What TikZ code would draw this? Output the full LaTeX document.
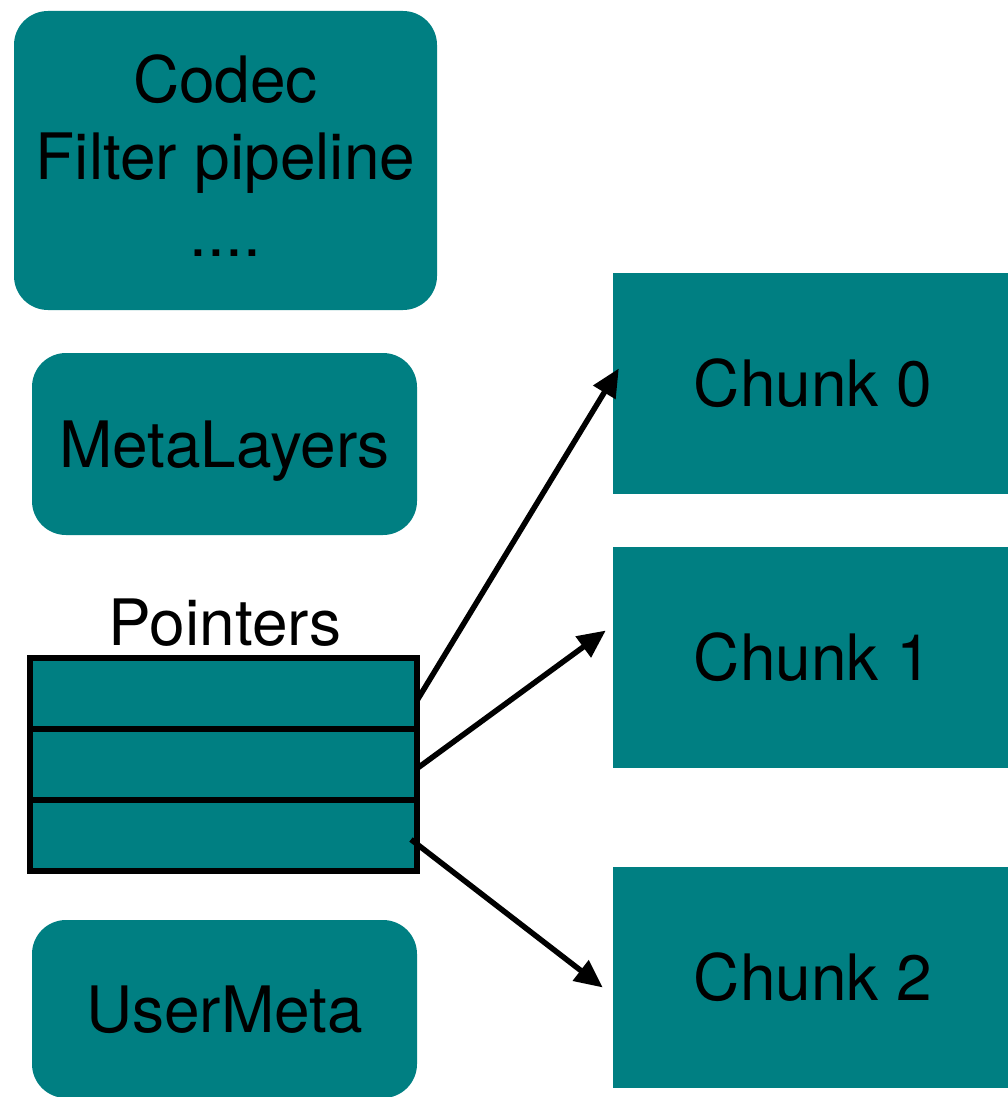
\documentclass[tikz,border=0pt]{standalone}
\usepackage{fontspec}
\setmainfont{TeX Gyre Heros}
\usepackage{tikz}
\usetikzlibrary{arrows.meta,positioning}
\definecolor{blosc}{RGB}{0,127,130}
\tikzstyle{meta} = [rectangle, rounded corners=34pt, fill=blosc, align=center, inner sep=0pt, text depth=0pt]
\tikzstyle{chunk} = [rectangle, fill=blosc, inner sep=0pt, minimum width=400pt, minimum height=221pt]
\tikzstyle{slot} = [rectangle, fill=blosc, draw=black, line width=5.5pt, inner sep=0pt, outer sep=0pt, minimum width=387pt, minimum height=71pt]
\tikzstyle{ptr} = [black, line width=5.5pt, -{Triangle[length=28pt,width=25pt]}]

\begin{document}
\begin{tikzpicture}[x=1pt, y=-1pt, font=\fontsize{64}{77}\selectfont]
		\useasboundingbox (0,0) rectangle (1008,1097);

		\begin{scope}[every node/.style={meta}]
			\node[minimum width=423pt, minimum height=299pt, text depth=10pt] (codec) at (225.5,160.5) {Codec\\Filter pipeline\\....};
			\node[minimum width=385pt, minimum height=182pt] (layers) at (224.5,444) {MetaLayers};
			\node[minimum width=385pt, minimum height=178pt] (user) at (224.5,1009) {UserMeta};
		\end{scope}

		\begin{scope}[every node/.style={chunk}]
			\node (c0) at (813,383.5) {Chunk 0};
			\node (c1) at (813,657.5) {Chunk 1};
			\node (c2) at (813,977.5) {Chunk 2};
		\end{scope}

		\node (p0) [slot] at (223.5,693.5) {};
		\node (p1) [slot, below=0pt of p0] {};
		\node (p2) [slot, below=0pt of p1] {};
		\node[anchor=base] (label) at (225,645) {Pointers};

		\draw[ptr] ([yshift=-7pt]p0.east) -- ([xshift=6pt,yshift=15pt]c0.west);
		\draw[ptr] ([yshift=-4pt]p1.east) -- ([xshift=-7pt,yshift=27pt]c1.west);
		\draw[ptr] ([xshift=-6pt,yshift=-4pt]p2.east) -- ([xshift=-10pt,yshift=-10pt]c2.west);
	\end{tikzpicture}
\end{document}
